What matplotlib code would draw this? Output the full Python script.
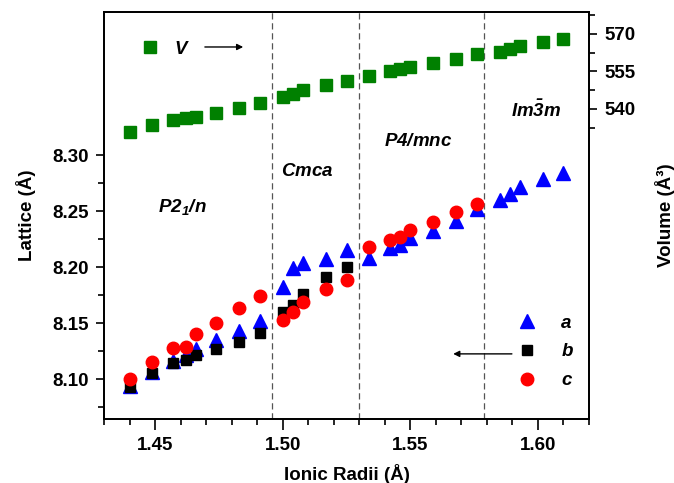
import matplotlib
matplotlib.use("Agg")
import matplotlib.pyplot as plt
import numpy as np

plt.rcParams['font.family'] = ['Liberation Sans', 'DejaVu Sans']
plt.rcParams['mathtext.fontset'] = 'custom'
plt.rcParams['mathtext.rm'] = 'Liberation Sans:bold:italic'
plt.rcParams['mathtext.it'] = 'Liberation Sans:bold:italic'
plt.rcParams['mathtext.bf'] = 'Liberation Sans:bold:italic'

# ---- data ----
radii = [1.440, 1.449, 1.457, 1.462, 1.466, 1.474, 1.483, 1.491, 1.500, 1.504,
         1.508, 1.517, 1.525, 1.534, 1.542, 1.546, 1.550, 1.559, 1.568, 1.576,
         1.585, 1.589, 1.593, 1.602, 1.610]
volume = [530.9, 533.5, 535.6, 536.3, 536.9, 538.5, 540.5, 542.3, 544.9, 546.0,
          547.7, 549.6, 551.3, 553.3, 555.2, 555.9, 556.8, 558.3, 560.0, 562.0,
          562.8, 563.9, 565.2, 566.8, 568.0]
lat_a = [8.094, 8.106, 8.116, 8.121, 8.127, 8.135, 8.143, 8.152, 8.182, 8.199,
         8.204, 8.207, 8.215, 8.208, 8.217, 8.220, 8.226, 8.232, 8.241, 8.252,
         8.260, 8.265, 8.271, 8.279, 8.284]
radii_b = radii[:13]
lat_b = [8.093, 8.105, 8.114, 8.117, 8.121, 8.127, 8.133, 8.141, 8.160, 8.166,
         8.176, 8.191, 8.200]
radii_c = radii[:20]
lat_c = [8.100, 8.115, 8.128, 8.129, 8.140, 8.150, 8.163, 8.174, 8.153, 8.160,
         8.169, 8.180, 8.188, 8.218, 8.224, 8.227, 8.233, 8.240, 8.249, 8.256]
boundaries = [1.496, 1.530, 1.579]
phases = [r'$P2_1/n$', r'$Cmca$', r'$P4/mnc$', r'$Im\bar{3}m$']
phase_pos = [(0.161, 0.521), (0.420, 0.609), (0.648, 0.681), (0.891, 0.759)]

fs = 13.5
fig = plt.figure(figsize=(6.74, 4.83), dpi=100)
ax = fig.add_axes([0.1543, 0.1325, 0.7196, 0.8427])
ax2 = ax.twinx()

ha, = ax.plot(radii, lat_a, ls='none', marker='^', ms=10, color='#0000ff', label='a', zorder=3)
hb, = ax.plot(radii_b, lat_b, ls='none', marker='s', ms=7.5, color='black', label='b', zorder=4)
hc, = ax.plot(radii_c, lat_c, ls='none', marker='o', ms=9, color='#ff0000', label='c', zorder=5)
hv, = ax2.plot(radii, volume, ls='none', marker='s', ms=8, color='#008000', label='V')

for b in boundaries:
    ax.axvline(b, color='#555555', ls=(0, (5, 3)), lw=0.9, zorder=1)

ax.set_xlim(1.43, 1.62)
ax.set_ylim(8.0643, 8.4277)
ax2.set_ylim(416, 578.8)

ax.set_xticks([1.45, 1.50, 1.55, 1.60])
ax.set_xticklabels(['1.45', '1.50', '1.55', '1.60'])
ax.set_xticks(np.round(np.arange(1.43, 1.6201, 0.01), 2), minor=True)
ax.set_yticks([8.10, 8.15, 8.20, 8.25, 8.30])
ax.set_yticklabels(['8.10', '8.15', '8.20', '8.25', '8.30'])
ax.set_yticks([8.075, 8.125, 8.175, 8.225, 8.275], minor=True)
ax2.set_yticks([540, 555, 570])
ax2.set_yticklabels(['540', '555', '570'])
ax2.set_yticks([532.5, 547.5, 562.5, 577.5], minor=True)

for a in (ax, ax2):
    a.tick_params(which='major', direction='out', length=6, width=1.2, labelsize=fs, pad=5)
    a.tick_params(which='minor', direction='out', length=4, width=1.2)
    for lbl in a.get_xticklabels() + a.get_yticklabels():
        lbl.set_fontweight('bold')
    for sp in a.spines.values():
        sp.set_linewidth(1.3)
ax.tick_params(axis='x', which='major', length=8)
ax.tick_params(top=False, which='both')

ax.set_xlabel('Ionic Radii (Å)', fontsize=fs, fontweight='bold', labelpad=7)
ax.set_ylabel('Lattice (Å)', fontsize=fs, fontweight='bold', labelpad=12)
ax2.set_ylabel('Volume (Å³)', fontsize=fs, fontweight='bold', labelpad=14)

for txt, (x, y) in zip(phases, phase_pos):
    ax.text(x, y, txt, transform=ax.transAxes, fontsize=fs, ha='center', va='center')

leg = ax.legend(handles=[ha, hb, hc], loc='center left', bbox_to_anchor=(0.854, 0.165),
                frameon=False, borderaxespad=0, borderpad=0, handlelength=0.95,
                handletextpad=1.35, labelspacing=0.62,
                prop={'size': fs, 'weight': 'bold', 'style': 'italic'})
leg.set_zorder(6)
leg2 = ax2.legend(handles=[hv], loc='center left', bbox_to_anchor=(0.077, 0.909),
                  frameon=False, borderaxespad=0, borderpad=0, handlelength=0.95,
                  handletextpad=0.8,
                  prop={'size': fs, 'weight': 'bold', 'style': 'italic'})

ax.annotate('', xy=(0.287, 0.914), xytext=(0.208, 0.914), xycoords='axes fraction',
            arrowprops=dict(arrowstyle='-|>', color='black', lw=1.0, mutation_scale=9,
                            shrinkA=0, shrinkB=0))
ax.annotate('', xy=(0.720, 0.160), xytext=(0.841, 0.160), xycoords='axes fraction',
            arrowprops=dict(arrowstyle='-|>', color='black', lw=1.0, mutation_scale=9,
                            shrinkA=0, shrinkB=0))

fig.savefig('out.png', dpi=100)
